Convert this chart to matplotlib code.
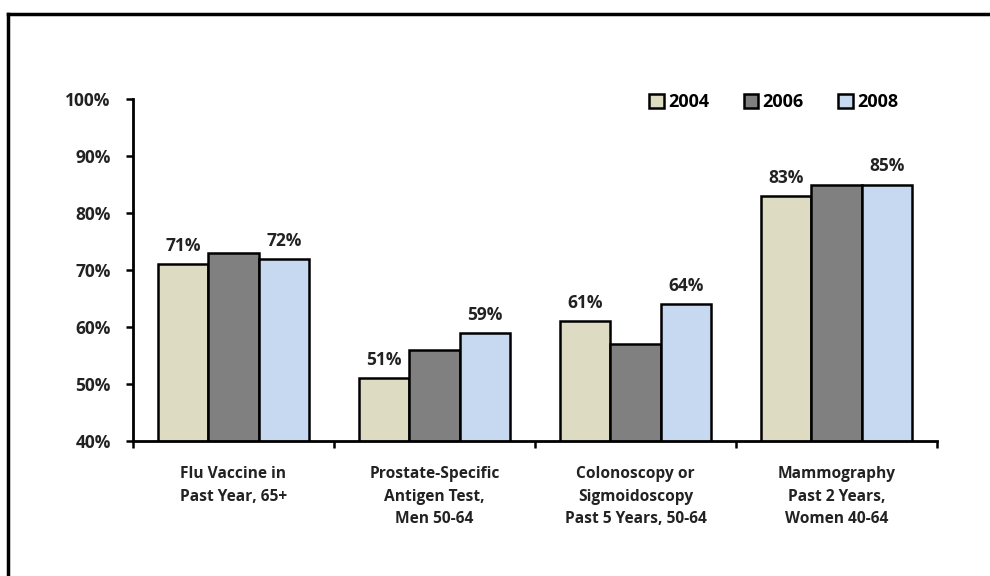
import matplotlib
matplotlib.use("Agg")
import matplotlib.pyplot as plt
import numpy as np
from matplotlib.lines import Line2D

categories = ["Flu Vaccine in\nPast Year, 65+",
              "Prostate-Specific\nAntigen Test,\nMen 50-64",
              "Colonoscopy or\nSigmoidoscopy\nPast 5 Years, 50-64",
              "Mammography\nPast 2 Years,\nWomen 40-64"]
years = ["2004", "2006", "2008"]
v2004 = [71, 51, 61, 83]
v2006 = [73, 56, 57, 85]
v2008 = [72, 59, 64, 85]
series = [v2004, v2006, v2008]
labeled = [True, False, True]
colors = ["#DEDBC3", "#808080", "#C6D9F1"]
yticks = [40, 50, 60, 70, 80, 90, 100]

plt.rcParams['font.family'] = ['Open Sans', 'DejaVu Sans']
plt.rcParams['font.weight'] = 'bold'

fig = plt.figure(figsize=(9.9, 5.76), dpi=100)
ax = fig.add_axes([0.1343, 0.2344, 0.9465 - 0.1343, 0.828 - 0.2344])

x = np.arange(len(categories))
w = 0.25
for i, (vals, yr) in enumerate(zip(series, years)):
    pos = x + (i - 1) * w
    ax.bar(pos, vals, width=w, color=colors[i], edgecolor="black",
           linewidth=1.8, label=yr, zorder=2)
    if labeled[i]:
        for p, v in zip(pos, vals):
            ax.text(p, v + 1.6, f"{v}%", ha="center", va="bottom",
                    fontsize=12.5, fontweight="bold", color="#222222")

ax.set_ylim(40, 100)
ax.set_xlim(-0.5, len(categories) - 0.5)
ax.set_yticks(yticks)
ax.set_yticklabels([f"{t}%" for t in yticks], fontsize=12.5, fontweight="bold",
                   color="#222222")
ax.set_xticks(x)
ax.set_xticklabels(categories, fontsize=11.2, fontweight="bold", linespacing=1.55,
                   va="top", color="#222222")
ax.tick_params(axis="x", which="major", length=0, pad=18)
ax.set_xticks(np.arange(len(categories) + 1) - 0.5, minor=True)
ax.tick_params(axis="x", which="minor", length=5, width=1.8, direction="out")
ax.tick_params(axis="y", length=5, width=1.8, direction="out", pad=11)

for s in ["top", "right"]:
    ax.spines[s].set_visible(False)
for s in ["left", "bottom"]:
    ax.spines[s].set_linewidth(2)

ax.legend(loc="upper right", bbox_to_anchor=(0.972, 1.064), ncol=3,
          frameon=False, handlelength=0.8, handleheight=0.8,
          handletextpad=0.25, columnspacing=1.9,
          prop={'weight': 'bold', 'size': 13})

# outer border (top and left)
fig.add_artist(Line2D([8 / 990, 8 / 990], [0, 1 - 14 / 576], transform=fig.transFigure,
                      color="black", linewidth=2.5))
fig.add_artist(Line2D([8 / 990, 1], [1 - 14 / 576, 1 - 14 / 576], transform=fig.transFigure,
                      color="black", linewidth=2.5))

fig.savefig("out.png", dpi=100)
